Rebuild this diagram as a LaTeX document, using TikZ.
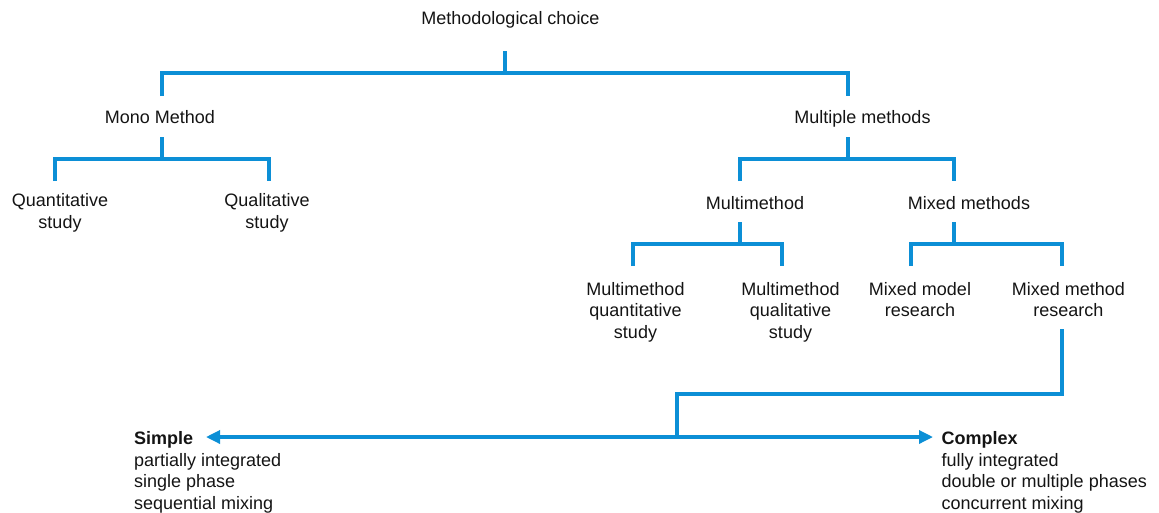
\documentclass[tikz,border=0pt]{standalone}
\usepackage{fontspec}
\setmainfont{Liberation Sans}
\usetikzlibrary{arrows.meta}
\definecolor{lineblue}{RGB}{12,143,214}
\definecolor{txt}{RGB}{20,20,20}
\begin{document}
\begin{tikzpicture}[x=1pt,y=-1pt,
  lbl/.style={anchor=base,align=center,inner sep=0pt,text=txt,font=\fontsize{18}{21.7}\selectfont},
  lblL/.style={lbl,align=left,anchor=base west},
  conn/.style={draw=lineblue,line width=3.3pt,line join=miter,line cap=butt},
  tip/.style={-{Triangle[length=14pt,width=13pt]}}]
\useasboundingbox (0,0) rectangle (1159,512);
% text nodes (multi-line nodes are placed at the baseline of their last line)
\node[lbl] (root) at (510.5,24.5) {Methodological choice};
\node[lbl] (mono) at (160,123.5) {Mono Method};
\node[lbl] (multi) at (862.5,123.5) {Multiple methods};
\node[lbl] (quant) at (60,228.3) {Quantitative\\study};
\node[lbl] (qual) at (267,228.3) {Qualitative\\study};
\node[lbl] (mm) at (755,209) {Multimethod};
\node[lbl] (mix) at (969,209) {Mixed methods};
\node[lbl] (mmquan) at (635.5,338.4) {Multimethod\\quantitative\\study};
\node[lbl] (mmqual) at (790.5,338.4) {Multimethod\\qualitative\\study};
\node[lbl] (mixmodel) at (920,316.7) {Mixed model\\research};
\node[lbl] (mixmethod) at (1068.3,316.7) {Mixed method\\research};
\node[lblL] (simple) at (134,509.6) {\textbf{Simple}\\partially integrated\\single phase\\sequential mixing};
\node[lblL] (complex) at (941.5,509.6) {\textbf{Complex}\\fully integrated\\double or multiple phases\\concurrent mixing};
% connector end points
\coordinate (rootB) at (505,51);   \coordinate (rootJ) at (505,73);
\coordinate (monoT) at (162,96);   \coordinate (multiT) at (848,96);
\coordinate (monoB) at (162,137);  \coordinate (monoJ) at (162,159);
\coordinate (quantT) at (55,181);  \coordinate (qualT) at (269,181);
\coordinate (multiB) at (848,137); \coordinate (multiJ) at (848,159);
\coordinate (mmT) at (740,181);    \coordinate (mixT) at (954,181);
\coordinate (mmB) at (740,222);    \coordinate (mmJ) at (740,244);
\coordinate (mmquanT) at (633,266); \coordinate (mmqualT) at (782,266);
\coordinate (mixB) at (954,222);   \coordinate (mixJ) at (954,244);
\coordinate (mixmodelT) at (911,266); \coordinate (mixmethodT) at (1062,266);
\coordinate (mixmethodB) at (1062,329);
\coordinate (split) at (677,437);
\coordinate (simpleE) at (206,437);
\coordinate (complexW) at (933,437);
% connectors
\draw[conn] (rootB) -- (rootJ);
\draw[conn] (monoT) |- (multiT |- rootJ) -- (multiT);
\draw[conn] (monoB) -- (monoJ);
\draw[conn] (quantT) |- (qualT |- monoJ) -- (qualT);
\draw[conn] (multiB) -- (multiJ);
\draw[conn] (mmT) |- (mixT |- multiJ) -- (mixT);
\draw[conn] (mmB) -- (mmJ);
\draw[conn] (mmquanT) |- (mmqualT |- mmJ) -- (mmqualT);
\draw[conn] (mixB) -- (mixJ);
\draw[conn] (mixmodelT) |- (mixmethodT |- mixJ) -- (mixmethodT);
\draw[conn] (mixmethodB) -- (1062,394) -| (split);
\draw[conn,tip] (split) -- (simpleE);
\draw[conn,tip] (split) -- (complexW);
\end{tikzpicture}
\end{document}
